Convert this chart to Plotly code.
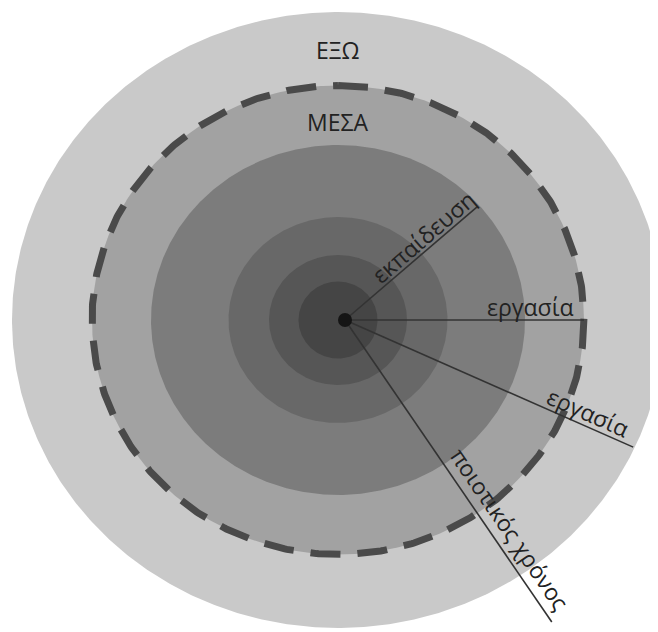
import numpy as np
import plotly.graph_objects as go

# ---- data ----
ring_names = ["outer", "mesa", "ring3", "ring4", "ring5", "ring6"]
ring_rx = [326, 246, 187, 109.5, 69, 39.5]
ring_ry = [308, 234.5, 175, 103, 65, 38.5]
ring_colors = ["#c9c9c9", "#a2a2a2", "#7c7c7c", "#686868", "#565656", "#454545"]

center = (338, 320)
hub = (345, 320)

spoke_labels = ["εκπαίδευση", "εργασία", "εργασία", "ποιοτικός χρόνος"]
spoke_angles = [40.6, 0.0, -23.8, -55.6]     # degrees, counter-clockwise on screen
spoke_lengths = [174, 239, 315, 366]
label_pos = [(423, 237), (530, 307), (588, 412), (510, 529)]

zone_labels = ["ΕΞΩ", "ΜΕΣΑ"]
zone_pos = [(337, 50), (337, 122)]

W, H = 658, 632
OFF = 8  # page body margin of the exported html
fig = go.Figure()

t = np.linspace(-np.pi / 2, 1.5 * np.pi, 721)
for name, rx, ry, col in zip(ring_names, ring_rx, ring_ry, ring_colors):
    fig.add_trace(go.Scatter(
        x=center[0] + rx * np.cos(t), y=center[1] + ry * np.sin(t),
        mode="lines", fill="toself", fillcolor=col,
        line=dict(width=0, color=col), hoverinfo="skip", showlegend=False))

# dashed boundary of the "ΜΕΣΑ" zone
fig.add_trace(go.Scatter(
    x=center[0] + ring_rx[1] * np.cos(t), y=center[1] + ring_ry[1] * np.sin(t),
    mode="lines", line=dict(width=7, color="#4a4a4a", dash="30px,17px"),
    hoverinfo="skip", showlegend=False))

# spokes
for ang, ln in zip(spoke_angles, spoke_lengths):
    a = np.deg2rad(ang)
    fig.add_trace(go.Scatter(
        x=[hub[0], hub[0] + ln * np.cos(a)], y=[hub[1], hub[1] - ln * np.sin(a)],
        mode="lines", line=dict(width=1.6, color="#333333"),
        hoverinfo="skip", showlegend=False))

# hub dot
fig.add_trace(go.Scatter(x=[hub[0]], y=[hub[1]], mode="markers",
                         marker=dict(size=14, color="#151515"),
                         hoverinfo="skip", showlegend=False))

font = dict(family="Open Sans", size=23, color="#222222")
for txt, (x, y) in zip(zone_labels, zone_pos):
    fig.add_annotation(x=x, y=y, text=txt, showarrow=False, font=font,
                       xanchor="center", yanchor="middle")
for txt, ang, (x, y) in zip(spoke_labels, spoke_angles, label_pos):
    fig.add_annotation(x=x, y=y, text=txt, showarrow=False, font=font,
                       textangle=-ang, xanchor="center", yanchor="middle")

fig.update_layout(
    width=W, height=H, margin=dict(l=0, r=0, t=0, b=0),
    paper_bgcolor="white", plot_bgcolor="white",
    xaxis=dict(range=[OFF, W + OFF], visible=False, fixedrange=True),
    yaxis=dict(range=[H + OFF, OFF], visible=False, fixedrange=True),
    showlegend=False)

fig.write_html("out.html")
